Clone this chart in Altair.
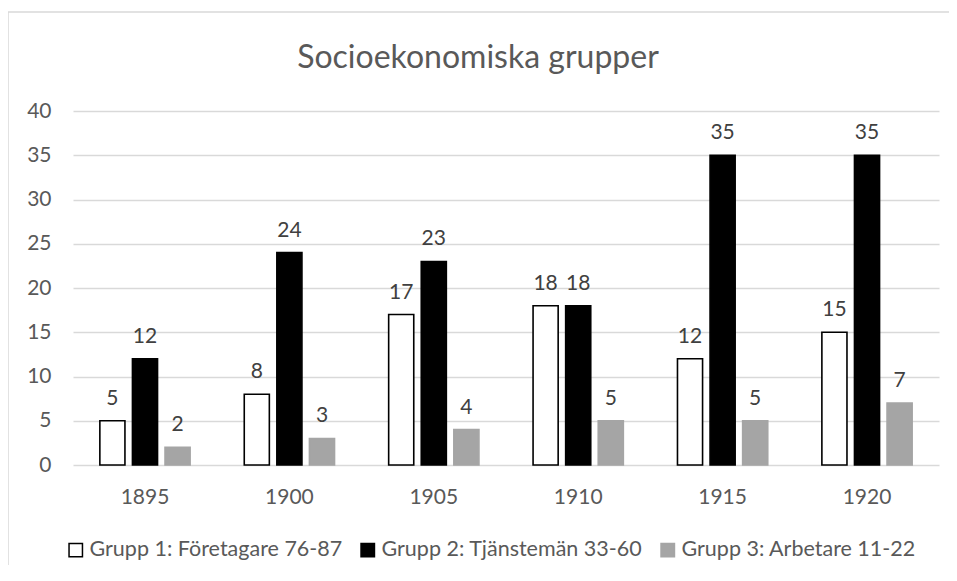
import altair as alt
import pandas as pd

years = ["1895", "1900", "1905", "1910", "1915", "1920"]
series = ["Grupp 1: Företagare 76-87", "Grupp 2: Tjänstemän 33-60", "Grupp 3: Arbetare 11-22"]
grupp1 = [5, 8, 17, 18, 12, 15]
grupp2 = [12, 24, 23, 18, 35, 35]
grupp3 = [2, 3, 4, 5, 5, 7]
y_ticks = [0, 5, 10, 15, 20, 25, 30, 35, 40]
title_text = ["Socioekonomiska grupper"]

rows = []
for vals, s in zip([grupp1, grupp2, grupp3], series):
    for yr, v in zip(years, vals):
        rows.append({"year": yr, "series": s, "value": v})
df = pd.DataFrame(rows)

FONT = "Lato"
fill_range = ["#ffffff", "#000000", "#a5a5a5"]
stroke_range = ["#000000", "#000000", "#a5a5a5"]

x_enc = alt.X("year:N", sort=years,
              scale=alt.Scale(paddingInner=0.323, paddingOuter=0.16),
              axis=alt.Axis(title=None, labelAngle=0, ticks=False, domain=False,
                            labelFont=FONT, labelFontSize=21, labelColor="#595959",
                            labelPadding=21, grid=False))
xoff_enc = alt.XOffset("series:N", sort=series,
                       scale=alt.Scale(paddingInner=0.23, paddingOuter=0.115))
y_enc = alt.Y("value:Q", scale=alt.Scale(domain=[0, 40], nice=False),
              axis=alt.Axis(title=None, values=y_ticks, ticks=False, domain=False,
                            labelFont=FONT, labelFontSize=21, labelColor="#595959",
                            labelPadding=22, gridColor="#d9d9d9", gridWidth=1.3))

frame_top = alt.Chart(pd.DataFrame({"a": [0]})).mark_rule(
    stroke="#d9d9d9", strokeWidth=1.5
).encode(x=alt.value(-65), x2=alt.value(900), y=alt.value(-99))
frame_left = alt.Chart(pd.DataFrame({"a": [0]})).mark_rule(
    stroke="#d9d9d9", strokeWidth=1.5
).encode(x=alt.value(-65), y=alt.value(-99), y2=alt.value(560))

title = alt.Chart(pd.DataFrame({"t": title_text})).mark_text(
    font=FONT, fontSize=32, color="#595959", baseline="alphabetic", align="center"
).encode(x=alt.value(405), y=alt.value(-43), text="t:N")

bars = alt.Chart(df).mark_bar(strokeWidth=1.6).encode(
    x=x_enc, xOffset=xoff_enc, y=y_enc,
    fill=alt.Fill("series:N", sort=series,
                  scale=alt.Scale(domain=series, range=fill_range),
                  legend=alt.Legend(title=None, orient="none", direction="horizontal",
                                    legendX=-8, legendY=428, symbolType="square",
                                    symbolSize=180, symbolStrokeWidth=1.5,
                                    labelFont=FONT, labelFontSize=21.5, labelColor="#595959",
                                    labelLimit=0, labelOffset=3, columnPadding=14)),
    stroke=alt.Stroke("series:N", sort=series,
                      scale=alt.Scale(domain=series, range=stroke_range), legend=None),
)

labels = alt.Chart(df).mark_text(font=FONT, fontSize=21, color="#404040", dy=-16,
                                 baseline="alphabetic").encode(
    x=alt.X("year:N", sort=years), xOffset=alt.XOffset("series:N", sort=series),
    y="value:Q", text="value:Q")

chart = alt.layer(frame_top, frame_left, title, bars, labels).properties(
    width=866, height=354,
    padding={"left": 65, "top": 103, "right": 10, "bottom": 100},
    autosize=alt.AutoSizeParams(type="none"),
).configure_view(stroke=None).configure_axis(labelFont=FONT)

chart.save("out.html", embed_options={"renderer": "svg", "actions": False})
